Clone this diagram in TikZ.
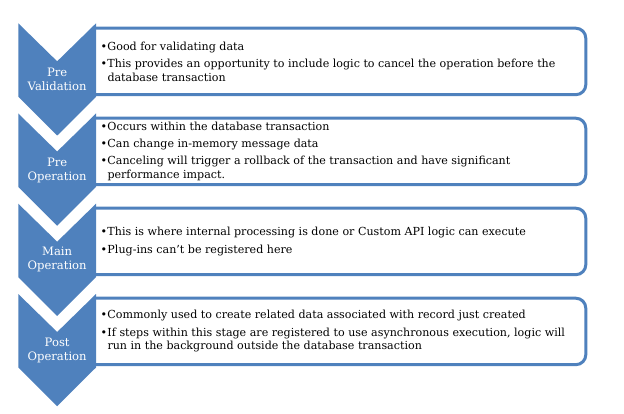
\documentclass[tikz,border=0pt]{standalone}
\usepackage{fontspec}
\setmainfont{DejaVu Serif}
\definecolor{accent}{HTML}{4F81BD}
\newcommand\bitem{\makebox[6.8pt][l]{\textbullet}}
\newcommand\bcont{\hspace*{6.8pt}}
\tikzset{
  stage/.style={fill=accent, draw=none},
  panel/.style={draw=accent, line width=3pt, fill=white, rounded corners=10pt},
  stagelabel/.style={text=white, align=center, inner sep=0pt,
    font=\fontsize{11.6}{14}\selectfont},
  notes/.style={anchor=west, align=left, inner sep=0pt,
    font=\fontsize{11.1}{13.7}\selectfont}
}
\begin{document}
\begin{tikzpicture}[x=1pt, y=-1pt]
  \useasboundingbox (0,0) rectangle (624,414);

  % text panels (left edge hides behind the chevrons)
  \foreach \t/\n in {26.7/p1, 116.7/p2, 206.7/p3, 296.7/p4} {
    \draw[panel] (94,{\t+1.5}) -- (585.8,{\t+1.5}) -- (585.8,{\t+68}) -- (94,{\t+68});
    \coordinate (\n) at (100.5,{\t+34.75});
  }

  % chevrons
  \foreach \t in {23.3, 113.5, 203.7, 294} {
    \fill[stage] (18.3,\t) -- (57.15,{\t+38}) -- (96,\t) -- (96,{\t+73.5})
      -- (57.15,{\t+112.3}) -- (18.3,{\t+73.5}) -- cycle;
  }

  % stage names
  \node[stagelabel] (s1) at (57.15,79) {Pre\\Validation};
  \node[stagelabel] (s2) at (57.15,170) {Pre\\Operation};
  \node[stagelabel] (s3) at (57.15,259.7) {Main\\Operation};
  \node[stagelabel] (s4) at (57.15,350.5) {Post\\Operation};

  % stage notes
  \node[notes] (n1) at (p1) {\bitem Good for validating data\\[3.6pt]
    \bitem This provides an opportunity to include logic to cancel the operation before the\\
    \bcont database transaction};
  \node[notes] (n2) at (p2) {\bitem Occurs within the database transaction\\[3.6pt]
    \bitem Can change in-memory message data\\[3.6pt]
    \bitem Canceling will trigger a rollback of the transaction and have significant\\
    \bcont performance impact.};
  \node[notes] (n3) at (p3) {\bitem This is where internal processing is done or Custom API logic can execute\\[3.6pt]
    \bitem Plug-ins can't be registered here};
  \node[notes] (n4) at (p4) {\bitem Commonly used to create related data associated with record just created\\[3.6pt]
    \bitem If steps within this stage are registered to use asynchronous execution, logic will\\
    \bcont run in the background outside the database transaction};
\end{tikzpicture}
\end{document}
